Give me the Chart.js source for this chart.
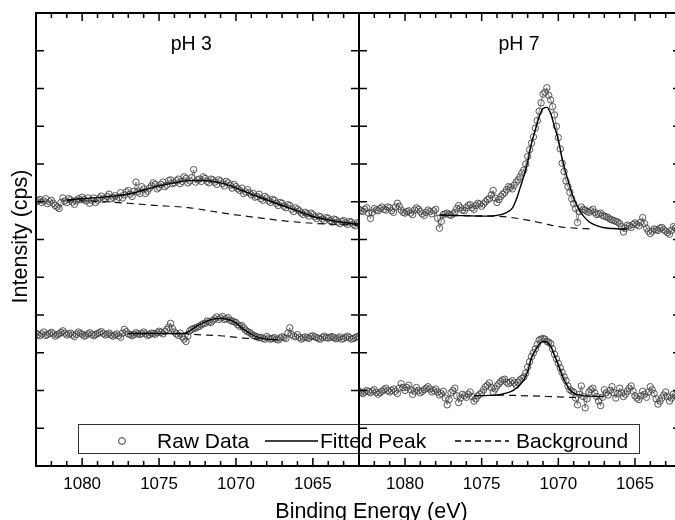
<!DOCTYPE html>
<html>
<head>
<meta charset="utf-8">
<script src="https://cdn.jsdelivr.net/npm/chart.js@4.4.0/dist/chart.umd.min.js"></script>
<style>
html, body { margin: 0; padding: 0; background: #fff; overflow: hidden; }
#wrap { position: relative; width: 675px; height: 520px; overflow: hidden; }
canvas { position: absolute; left: 0; top: 0; }
</style>
</head>
<body>
<div id="wrap">
  <canvas id="ph3_panel" width="690" height="520"></canvas>
  <canvas id="ph7_panel" width="690" height="520"></canvas>
</div>
<script>
// binding energy grid of the raw spectra (eV), one row per eV
var energy = [
  1083, 1082.75, 1082.5, 1082.25,  1082, 1081.75, 1081.5, 1081.25,
  1081, 1080.75, 1080.5, 1080.25,  1080, 1079.75, 1079.5, 1079.25,
  1079, 1078.75, 1078.5, 1078.25,  1078, 1077.75, 1077.5, 1077.25,
  1077, 1076.75, 1076.5, 1076.25,  1076, 1075.75, 1075.5, 1075.25,
  1075, 1074.75, 1074.5, 1074.25,  1074, 1073.75, 1073.5, 1073.25,
  1073, 1072.75, 1072.5, 1072.25,  1072, 1071.75, 1071.5, 1071.25,
  1071, 1070.75, 1070.5, 1070.25,  1070, 1069.75, 1069.5, 1069.25,
  1069, 1068.75, 1068.5, 1068.25,  1068, 1067.75, 1067.5, 1067.25,
  1067, 1066.75, 1066.5, 1066.25,  1066, 1065.75, 1065.5, 1065.25,
  1065, 1064.75, 1064.5, 1064.25,  1064, 1063.75, 1063.5, 1063.25,
  1063, 1062.75, 1062.5, 1062.25,  1062
];
// in-between channels
var energyMid = [
  1082.875, 1082.625, 1082.375, 1082.125,  1081.875, 1081.625, 1081.375, 1081.125,
  1080.875, 1080.625, 1080.375, 1080.125,  1079.875, 1079.625, 1079.375, 1079.125,
  1078.875, 1078.625, 1078.375, 1078.125,  1077.875, 1077.625, 1077.375, 1077.125,
  1076.875, 1076.625, 1076.375, 1076.125,  1075.875, 1075.625, 1075.375, 1075.125,
  1074.875, 1074.625, 1074.375, 1074.125,  1073.875, 1073.625, 1073.375, 1073.125,
  1072.875, 1072.625, 1072.375, 1072.125,  1071.875, 1071.625, 1071.375, 1071.125,
  1070.875, 1070.625, 1070.375, 1070.125,  1069.875, 1069.625, 1069.375, 1069.125,
  1068.875, 1068.625, 1068.375, 1068.125,  1067.875, 1067.625, 1067.375, 1067.125,
  1066.875, 1066.625, 1066.375, 1066.125,  1065.875, 1065.625, 1065.375, 1065.125,
  1064.875, 1064.625, 1064.375, 1064.125,  1063.875, 1063.625, 1063.375, 1063.125,
  1062.875, 1062.625, 1062.375, 1062.125
];
var energyTicks = [1080, 1075, 1070, 1065];

// pH 3, upper spectrum
var ph3TopRaw = [
  7.00, 7.06, 7.02, 6.95,  7.04, 6.90, 6.82, 7.10,
  6.98, 7.05, 6.93, 7.08,  7.12, 7.02, 6.96, 7.10,
  7.04, 7.15, 7.08, 7.20,  7.12, 7.06, 7.24, 7.18,
  7.30, 7.14, 7.52, 7.22,  7.34, 7.28, 7.42, 7.46,
  7.38, 7.52, 7.44, 7.58,  7.50, 7.60, 7.54, 7.62,
  7.55, 7.85, 7.58, 7.54,  7.62, 7.50, 7.58, 7.46,
  7.55, 7.42, 7.50, 7.36,  7.40, 7.30, 7.22, 7.32,
  7.18, 7.12, 7.20, 7.04,  7.10, 6.98, 7.04, 6.90,
  6.96, 6.84, 6.90, 6.74,  6.80, 6.70, 6.72, 6.62,
  6.66, 6.55, 6.60, 6.50,  6.56, 6.46, 6.52, 6.42,
  6.50, 6.40, 6.46, 6.36,  6.42
];
var ph3TopMid = [
  7.03, 6.98, 7.08, 7.00,  6.96, 6.86, 6.98, 7.02,
  7.08, 6.99, 7.03, 7.05,  7.06, 7.10, 7.04, 6.98,
  7.10, 7.06, 7.14, 7.08,  7.16, 7.12, 7.10, 7.26,
  7.20, 7.28, 7.26, 7.40,  7.22, 7.36, 7.50, 7.34,
  7.46, 7.40, 7.56, 7.48,  7.56, 7.48, 7.66, 7.50,
  7.64, 7.52, 7.60, 7.66,  7.54, 7.60, 7.52, 7.58,
  7.48, 7.54, 7.44, 7.46,  7.34, 7.36, 7.26, 7.24,
  7.22, 7.14, 7.08, 7.14,  7.02, 7.06, 6.96, 6.98,
  6.88, 6.92, 6.80, 6.84,  6.76, 6.66, 6.68, 6.70,
  6.60, 6.62, 6.54, 6.58,  6.50, 6.54, 6.46, 6.48,
  6.44, 6.48, 6.40, 6.44
];
var ph3TopFitE = [1081, 1080, 1079, 1078, 1077, 1076, 1075, 1074, 1073, 1072, 1071, 1070, 1069, 1068, 1067, 1066, 1065, 1064, 1063, 1062];
var ph3TopFit  = [7.05, 7.08, 7.11, 7.15, 7.20, 7.31, 7.42, 7.50, 7.56, 7.56, 7.50, 7.37, 7.20, 7.05, 6.90, 6.76, 6.61, 6.52, 6.45, 6.40];
var ph3TopBgE  = [1081, 1079, 1077, 1075.5, 1073, 1071, 1069, 1067, 1065, 1062];
var ph3TopBg   = [7.03, 7.01, 6.96, 6.91, 6.84, 6.71, 6.60, 6.50, 6.43, 6.38];

// pH 3, lower spectrum
var ph3LowRaw = [
  3.52, 3.45, 3.55, 3.48,  3.54, 3.44, 3.50, 3.58,
  3.47, 3.52, 3.43, 3.55,  3.49, 3.46, 3.53, 3.45,
  3.51, 3.56, 3.47, 3.52,  3.44, 3.50, 3.41, 3.62,
  3.50, 3.45, 3.53, 3.48,  3.55, 3.46, 3.52, 3.49,
  3.57, 3.50, 3.62, 3.78,  3.55, 3.46, 3.42, 3.30,
  3.58, 3.64, 3.68, 3.74,  3.78, 3.82, 3.86, 3.95,
  3.92, 3.88, 3.93, 3.84,  3.80, 3.70, 3.66, 3.56,
  3.50, 3.44, 3.40, 3.38,  3.43, 3.36, 3.40, 3.34,
  3.42, 3.38, 3.66, 3.44,  3.48, 3.36, 3.42, 3.38,
  3.45, 3.40, 3.36, 3.44,  3.39, 3.43, 3.37, 3.42,
  3.38, 3.44, 3.36, 3.40,  3.42
];
var ph3LowMid = [
  3.48, 3.50, 3.46, 3.51,  3.50, 3.47, 3.54, 3.52,
  3.50, 3.47, 3.49, 3.52,  3.44, 3.50, 3.49, 3.48,
  3.53, 3.51, 3.49, 3.47,  3.47, 3.45, 3.52, 3.56,
  3.48, 3.49, 3.50, 3.51,  3.50, 3.48, 3.51, 3.53,
  3.54, 3.56, 3.68, 3.64,  3.50, 3.52, 3.36, 3.44,
  3.62, 3.66, 3.70, 3.77,  3.84, 3.80, 3.90, 3.88,
  3.96, 3.90, 3.86, 3.82,  3.74, 3.72, 3.60, 3.54,
  3.46, 3.42, 3.41, 3.36,  3.39, 3.38, 3.36, 3.39,
  3.40, 3.52, 3.48, 3.42,  3.41, 3.39, 3.40, 3.43,
  3.42, 3.38, 3.41, 3.40,  3.41, 3.40, 3.39, 3.36,
  3.41, 3.40, 3.38, 3.43
];
var ph3LowFitE = [1077, 1074, 1073.5, 1073, 1072.5, 1072, 1071.5, 1071, 1070.5, 1070, 1069.5, 1069, 1068.5, 1068, 1067.5, 1067.25];
var ph3LowFit  = [3.51, 3.51, 3.51, 3.58, 3.72, 3.82, 3.89, 3.91, 3.88, 3.79, 3.62, 3.49, 3.40, 3.36, 3.35, 3.34];
var ph3LowBgE  = [1073.5, 1072.5, 1071, 1069.5, 1068.5];
var ph3LowBg   = [3.51, 3.48, 3.45, 3.39, 3.37];

// pH 7, upper spectrum
var ph7TopRaw = [
  6.80, 6.74, 6.84, 6.56,  6.82, 6.76, 6.86, 6.78,
  6.84, 6.72, 6.96, 6.78,  6.70, 6.76, 6.66, 6.84,
  6.74, 6.64, 6.78, 6.68,  6.80, 6.30, 6.66, 6.70,
  6.64, 6.72, 6.90, 6.78,  6.84, 6.92, 6.80, 6.96,
  6.88, 7.00, 7.08, 7.30,  6.98, 7.14, 7.24, 7.40,
  7.34, 7.52, 7.66, 7.84,  8.20, 8.55, 8.95, 9.40,
  9.85, 10.02, 9.70, 9.30, 8.70, 8.02, 7.55, 7.25,
  6.95, 6.45, 6.86, 6.78,  6.72, 6.80, 6.66, 6.70,
  6.62, 6.58, 6.52, 6.48,  6.42, 6.20, 6.38, 6.32,
  6.44, 6.36, 6.58, 6.30,  6.16, 6.28, 6.24, 6.32,
  6.22, 6.14, 6.34, 6.26,  6.30
];
var ph7TopMid = [
  6.76, 6.80, 6.70, 6.72,  6.78, 6.82, 6.80, 6.86,
  6.76, 6.86, 6.88, 6.72,  6.74, 6.70, 6.78, 6.80,
  6.68, 6.72, 6.74, 6.76,  6.56, 6.48, 6.68, 6.66,
  6.68, 6.82, 6.84, 6.76,  6.90, 6.84, 6.90, 6.94,
  6.94, 7.06, 7.18, 7.10,  7.06, 7.20, 7.32, 7.38,
  7.44, 7.58, 7.76, 8.00,  8.38, 8.72, 9.15, 9.62,
  9.90, 9.82, 9.52, 9.00,  8.40, 7.80, 7.40, 7.08,
  6.82, 6.74, 6.80, 6.74,  6.76, 6.72, 6.68, 6.64,
  6.60, 6.54, 6.50, 6.46,  6.34, 6.30, 6.36, 6.40,
  6.40, 6.46, 6.42, 6.22,  6.22, 6.26, 6.30, 6.26,
  6.18, 6.24, 6.30, 6.28
];
var ph7TopFitE = [1077.75, 1077, 1076, 1075, 1074.5, 1074, 1073.5, 1073, 1072.75, 1072.5, 1072.25, 1072, 1071.75, 1071.5, 1071.25, 1071,
                  1070.75, 1070.5, 1070.25, 1070, 1069.75, 1069.5, 1069.25, 1069, 1068.75, 1068.5, 1068, 1067.5, 1067, 1066.5, 1066, 1065.5];
var ph7TopFit  = [6.65, 6.64, 6.63, 6.62, 6.62, 6.64, 6.69, 6.83, 7.05, 7.36, 7.68, 8.05, 8.55, 8.90, 9.25, 9.47,
                  9.50, 9.34, 8.99, 8.63, 8.15, 7.75, 7.40, 7.09, 6.87, 6.69, 6.47, 6.37, 6.31, 6.29, 6.28, 6.28];
var ph7TopBgE  = [1077.75, 1076, 1074.3, 1073.2, 1072.1, 1071, 1070, 1068.9, 1067.8];
var ph7TopBg   = [6.65, 6.63, 6.62, 6.59, 6.52, 6.43, 6.34, 6.30, 6.28];

// pH 7, lower spectrum
var ph7LowRaw = [
  1.98, 1.92, 2.00, 1.94,  2.02, 1.90, 1.98, 2.06,
  1.96, 2.04, 1.92, 2.18,  2.00, 2.14, 1.90, 2.08,
  1.94, 2.02, 2.10, 1.96,  2.04, 1.88, 1.98, 1.62,
  1.94, 2.06, 1.68, 1.90,  1.82, 1.96, 1.72, 1.86,
  1.94, 2.10, 2.20, 1.96,  2.12, 2.24, 2.30, 2.18,
  2.26, 2.14, 2.28, 2.36,  2.62, 2.90, 3.10, 3.34,
  3.38, 3.30, 3.24, 2.96,  2.72, 2.48, 2.26, 2.02,
  1.96, 1.62, 2.12, 1.54,  1.96, 2.06, 1.84, 1.60,
  2.02, 1.88, 2.10, 1.80,  2.06, 1.84, 1.98, 2.12,
  1.86, 1.76, 1.98, 1.82,  2.10, 1.92, 1.64, 1.80,
  1.96, 1.72, 1.90, 1.84,  1.94
];
var ph7LowMid = [
  1.95, 1.96, 1.97, 1.99,  1.95, 1.94, 2.02, 2.00,
  2.00, 1.98, 2.06, 2.08,  2.08, 2.02, 1.98, 2.00,
  1.98, 2.06, 2.04, 2.00,  1.96, 1.92, 1.80, 1.76,
  2.00, 1.86, 1.80, 1.86,  1.90, 1.84, 1.78, 1.90,
  2.02, 2.14, 2.08, 2.04,  2.18, 2.28, 2.22, 2.22,
  2.20, 2.22, 2.32, 2.46,  2.76, 3.00, 3.22, 3.36,
  3.36, 3.28, 3.10, 2.84,  2.60, 2.36, 2.12, 1.98,
  1.80, 1.90, 1.84, 1.78,  2.02, 1.94, 1.72, 1.82,
  1.94, 2.00, 1.94, 1.92,  1.94, 1.90, 2.06, 1.98,
  1.80, 1.86, 1.90, 1.96,  2.02, 1.78, 1.72, 1.88,
  1.84, 1.80, 1.86, 1.90
];
var ph7LowFitE = [1075.5, 1074.5, 1074, 1073.5, 1073, 1072.75, 1072.5, 1072.25, 1072, 1071.75, 1071.5, 1071.25,
                  1071, 1070.75, 1070.5, 1070.25, 1070, 1069.75, 1069.5, 1069.25, 1069, 1068.5, 1068, 1067];
var ph7LowFit  = [1.86, 1.87, 1.88, 1.92, 1.99, 2.06, 2.15, 2.28, 2.50, 2.86, 3.06, 3.22,
                  3.30, 3.28, 3.16, 2.93, 2.67, 2.40, 2.18, 2.02, 1.93, 1.87, 1.85, 1.84];
var ph7LowBgE  = [1074, 1072, 1070, 1068.6];
var ph7LowBg   = [1.88, 1.86, 1.83, 1.81];

var legendLabels = ['Raw Data', 'Fitted Peak', 'Background'];

var FONT = '"Liberation Sans", Arial, Helvetica, sans-serif';

function pts(xs, ys) {
    return xs.map(function(v, i) { return {x: v, y: ys[i]}; });
}

// both channel sets of one spectrum, in scan order
function rawPts(raw, mid) {
    return pts(energy, raw).concat(pts(energyMid, mid)).sort(function(a, b) { return b.x - a.x; });
}

function spectrum(raw, mid, fitE, fit, bgE, bg) {
    return [
        {
            label: 'Fitted Peak',
            data: pts(fitE, fit),
            borderColor: '#000',
            borderWidth: 1.4,
            pointRadius: 0,
            cubicInterpolationMode: 'monotone',
            order: 0
        },
        {
            label: 'Background',
            data: pts(bgE, bg),
            borderColor: '#111',
            borderWidth: 1.2,
            borderDash: [7, 5],
            pointRadius: 0,
            cubicInterpolationMode: 'monotone',
            order: 1
        },
        {
            label: 'Raw Data',
            data: rawPts(raw, mid),
            borderColor: '#555',
            borderWidth: 0.7,
            pointRadius: 3.2,
            pointBorderColor: '#444',
            pointBorderWidth: 0.9,
            pointBackgroundColor: 'rgba(255,255,255,0)',
            order: 2
        }
    ];
}

// frame with inward ticks, panel label; the left panel also draws axis titles and legend
var panelFrame = {
    id: 'panelFrame',
    afterDraw: function(chart, args, opts) {
        var ctx = chart.ctx, a = chart.chartArea;
        var xs = chart.scales.x, ys = chart.scales.y;
        ctx.save();
        ctx.strokeStyle = '#000';
        ctx.lineWidth = 1.5;
        ctx.beginPath();
        for (var e = Math.ceil(xs.min); e <= xs.max; e++) {
            var px = xs.getPixelForValue(e);
            var len = e % 5 === 0 ? 8 : 5;
            ctx.moveTo(px, a.bottom); ctx.lineTo(px, a.bottom - len);
            ctx.moveTo(px, a.top); ctx.lineTo(px, a.top + len);
        }
        for (var v = ys.min + 1; v < ys.max; v++) {
            var py = ys.getPixelForValue(v);
            ctx.moveTo(a.left, py); ctx.lineTo(a.left + 8, py);
            ctx.moveTo(a.right, py); ctx.lineTo(a.right - 8, py);
        }
        ctx.stroke();
        ctx.lineWidth = 2;
        ctx.strokeRect(a.left, a.top, a.right - a.left, a.bottom - a.top);

        ctx.fillStyle = '#000';
        ctx.font = '19.5px ' + FONT;
        ctx.textAlign = 'center';
        ctx.textBaseline = 'alphabetic';
        ctx.fillText(opts.label, a.left + opts.labelAt * (a.right - a.left), 50);

        if (opts.shared) {
            ctx.font = '21.5px ' + FONT;
            ctx.fillText('Binding Energy (eV)', 371.5, 518);
            ctx.save();
            ctx.translate(27, 236.5);
            ctx.rotate(-Math.PI / 2);
            ctx.fillText('Intensity (cps)', 0, 0);
            ctx.restore();

            // legend box
            ctx.fillStyle = '#fff';
            ctx.fillRect(78, 424, 561, 29);
            ctx.strokeStyle = '#333';
            ctx.lineWidth = 1;
            ctx.strokeRect(78.5, 424.5, 561, 29);
            ctx.strokeStyle = '#3a3a3a';
            ctx.beginPath();
            ctx.arc(122, 441, 3.4, 0, Math.PI * 2);
            ctx.stroke();
            ctx.strokeStyle = '#000';
            ctx.lineWidth = 1.3;
            ctx.beginPath();
            ctx.moveTo(265, 441); ctx.lineTo(318, 441);
            ctx.stroke();
            ctx.setLineDash([6, 4]);
            ctx.beginPath();
            ctx.moveTo(455, 441); ctx.lineTo(509, 441);
            ctx.stroke();
            ctx.setLineDash([]);
            ctx.fillStyle = '#000';
            ctx.font = '21px ' + FONT;
            ctx.textAlign = 'left';
            ctx.fillText(legendLabels[0], 157, 448);
            ctx.fillText(legendLabels[1], 320, 448);
            ctx.fillText(legendLabels[2], 516, 448);
        }
        ctx.restore();
    }
};

function makePanel(id, padLeft, padRight, label, labelAt, shared, sets) {
    return new Chart(document.getElementById(id), {
        type: 'line',
        data: { datasets: sets },
        plugins: [panelFrame],
        options: {
            responsive: false,
            animation: false,
            events: [],
            layout: { padding: { left: padLeft, right: padRight, top: 13, bottom: 0 } },
            scales: {
                x: {
                    type: 'linear',
                    reverse: true,
                    min: 1062,
                    max: 1083,
                    afterBuildTicks: function(s) {
                        s.ticks = energyTicks.map(function(v) { return {value: v}; });
                    },
                    afterFit: function(s) { s.height = 54; },
                    grid: { display: false, drawTicks: false },
                    border: { display: false },
                    ticks: {
                        color: '#000',
                        font: { family: FONT, size: 17 },
                        padding: 8,
                        maxRotation: 0,
                        autoSkip: false,
                        callback: function(v) { return String(v); }
                    }
                },
                y: { display: false, min: 0, max: 12 }
            },
            plugins: {
                legend: { display: false },
                tooltip: { enabled: false },
                panelFrame: { label: label, labelAt: labelAt, shared: shared }
            }
        }
    });
}

var chart_ph3 = makePanel('ph3_panel', 36, 331, 'pH 3', 0.481, true,
    spectrum(ph3TopRaw, ph3TopMid, ph3TopFitE, ph3TopFit, ph3TopBgE, ph3TopBg)
        .concat(spectrum(ph3LowRaw, ph3LowMid, ph3LowFitE, ph3LowFit, ph3LowBgE, ph3LowBg)));

var chart_ph7 = makePanel('ph7_panel', 359, 9, 'pH 7', 0.497, false,
    spectrum(ph7TopRaw, ph7TopMid, ph7TopFitE, ph7TopFit, ph7TopBgE, ph7TopBg)
        .concat(spectrum(ph7LowRaw, ph7LowMid, ph7LowFitE, ph7LowFit, ph7LowBgE, ph7LowBg)));
</script>
</body>
</html>
